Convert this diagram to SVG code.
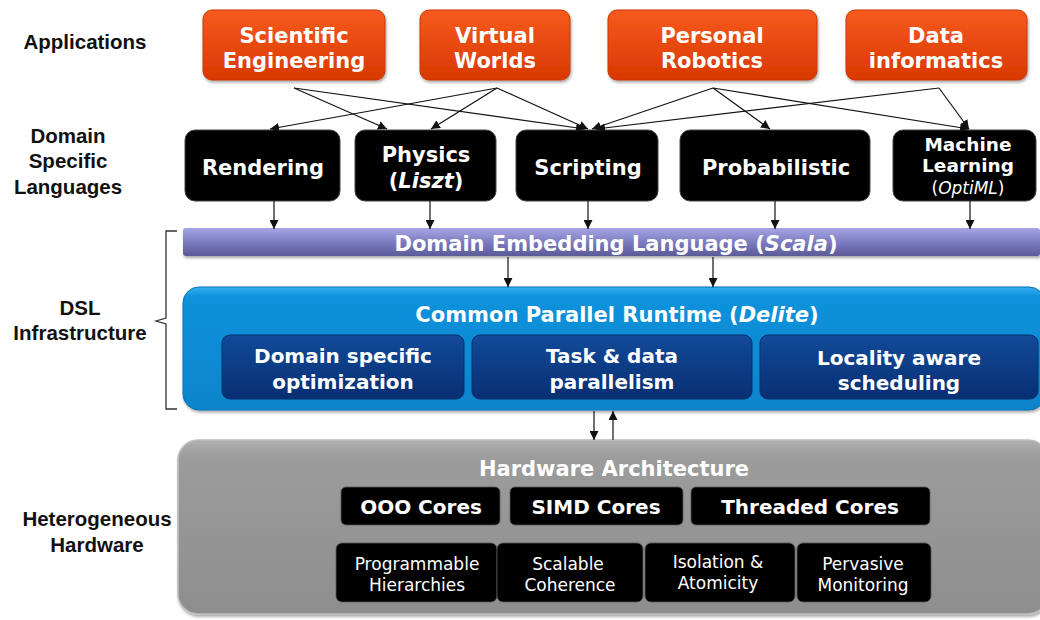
<svg xmlns="http://www.w3.org/2000/svg" width="1040" height="620" viewBox="0 0 1040 620">
<style>
.lbl{font-family:"Liberation Sans",Arial,sans-serif;font-weight:bold;font-size:20.5px;fill:#111;text-anchor:middle}
.bt{font-family:"DejaVu Sans",Verdana,sans-serif;font-weight:bold;font-size:21px;fill:#fff;text-anchor:middle}
.st{font-family:"DejaVu Sans",Verdana,sans-serif;font-weight:bold;font-size:20px;fill:#fff;text-anchor:middle}
.mt{font-family:"DejaVu Sans",Verdana,sans-serif;font-weight:bold;font-size:18.5px;fill:#fff;text-anchor:middle}
.nt{font-family:"DejaVu Sans",Verdana,sans-serif;font-size:17px;fill:#fff;text-anchor:middle}
.app{fill:url(#gOrange);stroke:#c83a08;stroke-width:1}
.dsl{fill:#000;stroke:#444;stroke-width:1}
.sub{fill:url(#gNavy);stroke:#06306a;stroke-width:1}
.core{fill:#000;stroke:#555;stroke-width:0.8}
.conn line{stroke:#111;stroke-width:1.2;fill:none}
</style>
<defs>
<linearGradient id="gOrange" x1="0" y1="0" x2="0" y2="1"><stop offset="0" stop-color="#f75a1f"/><stop offset="1" stop-color="#d93800"/></linearGradient>
<linearGradient id="gScala" x1="0" y1="0" x2="0" y2="1"><stop offset="0" stop-color="#a6a6e6"/><stop offset="0.5" stop-color="#7c7cc0"/><stop offset="1" stop-color="#5a5a98"/></linearGradient>
<linearGradient id="gBlue" x1="0" y1="0" x2="0" y2="1"><stop offset="0" stop-color="#38aef0"/><stop offset="0.08" stop-color="#0a92dc"/><stop offset="1" stop-color="#0784cc"/></linearGradient>
<linearGradient id="gNavy" x1="0" y1="0" x2="0" y2="1"><stop offset="0" stop-color="#124a9a"/><stop offset="1" stop-color="#072f72"/></linearGradient>
<linearGradient id="gGray" x1="0" y1="0" x2="0" y2="1"><stop offset="0" stop-color="#b0b0b0"/><stop offset="0.1" stop-color="#9c9c9c"/><stop offset="1" stop-color="#8e8e8e"/></linearGradient>
<filter id="sh" x="-10%" y="-10%" width="120%" height="130%"><feDropShadow dx="1" dy="2" stdDeviation="1.5" flood-color="#000" flood-opacity="0.35"/></filter>
<marker id="ah" viewBox="0 0 10 10" refX="10" refY="5" markerWidth="9" markerHeight="9" markerUnits="userSpaceOnUse" orient="auto"><path d="M0,0 L10,5 L0,10 z" fill="#111"/></marker>
</defs>
<rect width="1040" height="620" fill="#fff"/>

<g id="layer-labels">
<text class="lbl" x="85" y="49">Applications</text>
<text class="lbl" x="68" y="143">Domain</text>
<text class="lbl" x="68" y="168">Specific</text>
<text class="lbl" x="68" y="194">Languages</text>
<text class="lbl" x="80" y="315">DSL</text>
<text class="lbl" x="80" y="340">Infrastructure</text>
<text class="lbl" x="97" y="526">Heterogeneous</text>
<text class="lbl" x="97" y="552">Hardware</text>
<path d="M177,231 L166,231 L166,318 L156,321 L166,324 L166,409 L177,409" fill="none" stroke="#333" stroke-width="1.3"/>
</g>

<g id="app-scientific"><rect class="app" x="203" y="10" width="182" height="70" rx="9" filter="url(#sh)"/><text class="bt" x="294" y="43">Scientific</text><text class="bt" x="294" y="68">Engineering</text></g>
<g id="app-virtual"><rect class="app" x="420" y="10" width="150" height="70" rx="9" filter="url(#sh)"/><text class="bt" x="495" y="43">Virtual</text><text class="bt" x="495" y="68">Worlds</text></g>
<g id="app-robotics"><rect class="app" x="608" y="10" width="209" height="70" rx="9" filter="url(#sh)"/><text class="bt" x="712" y="43">Personal</text><text class="bt" x="712" y="68">Robotics</text></g>
<g id="app-data"><rect class="app" x="846" y="10" width="181" height="70" rx="9" filter="url(#sh)"/><text class="bt" x="936" y="43">Data</text><text class="bt" x="936" y="68">informatics</text></g>

<g id="dsl-rendering"><rect class="dsl" x="185" y="130" width="155" height="71" rx="10"/><text class="bt" x="263" y="175">Rendering</text></g>
<g id="dsl-physics"><rect class="dsl" x="355" y="130" width="141" height="71" rx="10"/><text class="bt" x="426" y="162">Physics</text><text class="bt" x="426" y="188">(<tspan font-style="italic">Liszt</tspan>)</text></g>
<g id="dsl-scripting"><rect class="dsl" x="516" y="130" width="142" height="71" rx="10"/><text class="bt" x="588" y="175">Scripting</text></g>
<g id="dsl-probabilistic"><rect class="dsl" x="680" y="130" width="190" height="71" rx="10"/><text class="bt" x="776" y="175">Probabilistic</text></g>
<g id="dsl-ml"><rect class="dsl" x="893" y="130" width="143" height="71" rx="10"/><text class="mt" x="968" y="151">Machine</text><text class="mt" x="968" y="172">Learning</text><text class="nt" x="968" y="194">(<tspan font-style="italic">OptiML</tspan>)</text></g>

<g id="scala"><rect x="183" y="228" width="857" height="28" rx="3" fill="url(#gScala)" filter="url(#sh)"/><text class="bt" x="616" y="251">Domain Embedding Language (<tspan font-style="italic">Scala</tspan>)</text></g>

<g id="delite"><rect x="183" y="287" width="862" height="123" rx="16" fill="url(#gBlue)" stroke="#0670b4" stroke-width="1" filter="url(#sh)"/><text class="bt" x="617" y="322">Common Parallel Runtime (<tspan font-style="italic">Delite</tspan>)</text></g>
<g id="opt-domain"><rect class="sub" x="222" y="335" width="242" height="64" rx="8"/><text class="st" x="343" y="363">Domain specific</text><text class="st" x="343" y="389">optimization</text></g>
<g id="opt-task"><rect class="sub" x="472" y="335" width="280" height="64" rx="8"/><text class="st" x="612" y="363">Task &amp; data</text><text class="st" x="612" y="389">parallelism</text></g>
<g id="opt-locality"><rect class="sub" x="760" y="335" width="278" height="64" rx="8"/><text class="st" x="899" y="365">Locality aware</text><text class="st" x="899" y="390">scheduling</text></g>

<g id="hardware"><rect x="178" y="440" width="870" height="174" rx="20" fill="url(#gGray)" stroke="#bdbdbd" stroke-width="1.5" filter="url(#sh)"/><text class="bt" x="614" y="476">Hardware Architecture</text></g>
<g id="core-ooo"><rect class="core" x="341" y="487" width="159" height="38" rx="5"/><text class="st" x="421" y="514">OOO Cores</text></g>
<g id="core-simd"><rect class="core" x="510" y="487" width="173" height="38" rx="5"/><text class="st" x="596" y="514">SIMD Cores</text></g>
<g id="core-threaded"><rect class="core" x="691" y="487" width="239" height="38" rx="5"/><text class="st" x="810" y="514">Threaded Cores</text></g>
<g id="hw-prog"><rect class="core" x="336" y="543" width="161" height="59" rx="6"/><text class="nt" x="417" y="570">Programmable</text><text class="nt" x="417" y="591">Hierarchies</text></g>
<g id="hw-scal"><rect class="core" x="497" y="543" width="146" height="59" rx="6"/><text class="nt" x="568" y="570">Scalable</text><text class="nt" x="570" y="591">Coherence</text></g>
<g id="hw-iso"><rect class="core" x="645" y="543" width="150" height="59" rx="6"/><text class="nt" x="718" y="568">Isolation &amp;</text><text class="nt" x="718" y="589">Atomicity</text></g>
<g id="hw-perv"><rect class="core" x="797" y="543" width="134" height="59" rx="6"/><text class="nt" x="863" y="570">Pervasive</text><text class="nt" x="863" y="591">Monitoring</text></g>

<g id="connectors" class="conn">
<line x1="294" y1="88" x2="387" y2="129" marker-end="url(#ah)"/>
<line x1="294" y1="88" x2="585" y2="129" marker-end="url(#ah)"/>
<line x1="497" y1="88" x2="270" y2="129" marker-end="url(#ah)"/>
<line x1="497" y1="88" x2="431" y2="129" marker-end="url(#ah)"/>
<line x1="497" y1="88" x2="588" y2="129" marker-end="url(#ah)"/>
<line x1="713" y1="88" x2="592" y2="129" marker-end="url(#ah)"/>
<line x1="713" y1="88" x2="770" y2="129" marker-end="url(#ah)"/>
<line x1="713" y1="88" x2="969" y2="129" marker-end="url(#ah)"/>
<line x1="939" y1="88" x2="596" y2="129" marker-end="url(#ah)"/>
<line x1="939" y1="88" x2="969" y2="129" marker-end="url(#ah)"/>
<line x1="274" y1="201" x2="274" y2="229" marker-end="url(#ah)"/>
<line x1="430" y1="201" x2="430" y2="229" marker-end="url(#ah)"/>
<line x1="588" y1="201" x2="588" y2="229" marker-end="url(#ah)"/>
<line x1="775" y1="201" x2="775" y2="229" marker-end="url(#ah)"/>
<line x1="970" y1="201" x2="970" y2="229" marker-end="url(#ah)"/>
<line x1="508" y1="257" x2="508" y2="287" marker-end="url(#ah)"/>
<line x1="713" y1="257" x2="713" y2="287" marker-end="url(#ah)"/>
<line x1="594" y1="411" x2="594" y2="440" marker-end="url(#ah)"/>
<line x1="613" y1="440" x2="613" y2="411" marker-end="url(#ah)"/>
</g>
</svg>
